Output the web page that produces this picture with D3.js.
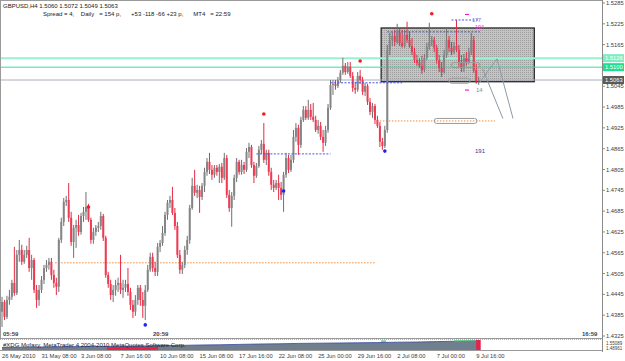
<!DOCTYPE html>
<html>
<head>
<meta charset="utf-8">
<script src="https://cdn.jsdelivr.net/npm/d3@7/dist/d3.min.js"></script>
<style>
body { margin: 0; background: #fff; }
svg { display: block; font-family: "Liberation Sans", Arial, sans-serif; }
</style>
</head>
<body>
<svg width="625" height="361"></svg>
<script>
// GBPUSD H4, 26 May 2010 .. 9 Jul 2010
var opens = [
1.4395,1.4423,1.4380,1.4429,1.4438,1.4478,1.4449,1.4559,1.4573,1.4539,
1.4559,1.4573,1.4521,1.4544,1.4458,1.4429,1.4458,1.4487,1.4521,1.4530,
1.4539,1.4501,1.4478,1.4467,1.4602,1.4654,1.4712,1.4717,1.4666,1.4596,
1.4637,1.4645,1.4625,1.4671,1.4683,1.4697,1.4660,1.4602,1.4625,1.4637,
1.4642,1.4671,1.4608,1.4501,1.4475,1.4443,1.4458,1.4472,1.4478,1.4458,
1.4464,1.4475,1.4452,1.4415,1.4395,1.4429,1.4464,1.4429,1.4412,1.4458,
1.4516,1.4553,1.4521,1.4510,1.4582,1.4593,1.4622,1.4674,1.4709,1.4717,
1.4680,1.4642,1.4559,1.4516,1.4530,1.4573,1.4602,1.4694,1.4758,1.4738,
1.4746,1.4726,1.4758,1.4798,1.4827,1.4804,1.4790,1.4810,1.4798,1.4813,
1.4781,1.4838,1.4732,1.4694,1.4729,1.4781,1.4827,1.4798,1.4818,1.4804,
1.4856,1.4870,1.4818,1.4787,1.4815,1.4862,1.4879,1.4833,1.4853,1.4798,
1.4761,1.4752,1.4766,1.4752,1.4732,1.4790,1.4838,1.4804,1.4833,1.4899,
1.4925,1.4876,1.4948,1.4977,1.4954,1.4977,1.4957,1.4948,1.4919,1.4931,
1.4899,1.4882,1.4919,1.4983,1.5049,1.5052,1.5046,1.5063,1.5084,1.5104,
1.5086,1.5101,1.5075,1.5040,1.5035,1.5075,1.5063,1.5029,1.5046,1.5000,
1.4971,1.4988,1.4948,1.4931,1.4885,1.4873,1.4919,1.5150,1.5179,1.5190,
1.5173,1.5199,1.5170,1.5161,1.5193,1.5179,1.5161,1.5144,1.5121,1.5112,
1.5104,1.5092,1.5127,1.5159,1.5173,1.5179,1.5156,1.5121,1.5098,1.5086,
1.5135,1.5179,1.5156,1.5144,1.5161,1.5150,1.5115,1.5098,1.5127,1.5115,
1.5144,1.5179,1.5092,1.5060]
var highs = [
1.4438,1.4429,1.4441,1.4458,1.4487,1.4582,1.4573,1.4602,1.4588,1.4573,
1.4585,1.4608,1.4559,1.4550,1.4472,1.4472,1.4498,1.4530,1.4544,1.4550,
1.4550,1.4516,1.4493,1.4608,1.4666,1.4723,1.4729,1.4766,1.4683,1.4645,
1.4660,1.4674,1.4680,1.4697,1.4740,1.4706,1.4666,1.4637,1.4645,1.4654,
1.4683,1.4677,1.4614,1.4510,1.4487,1.4472,1.4487,1.4493,1.4559,1.4487,
1.4487,1.4521,1.4464,1.4429,1.4443,1.4472,1.4472,1.4452,1.4472,1.4530,
1.4565,1.4565,1.4539,1.4593,1.4602,1.4642,1.4683,1.4717,1.4729,1.4755,
1.4694,1.4654,1.4573,1.4539,1.4585,1.4614,1.4703,1.4781,1.4804,1.4761,
1.4758,1.4766,1.4810,1.4838,1.4853,1.4818,1.4818,1.4818,1.4821,1.4824,
1.4853,1.4847,1.4746,1.4740,1.4790,1.4838,1.4833,1.4833,1.4827,1.4867,
1.4882,1.4876,1.4827,1.4824,1.4873,1.4890,1.4939,1.4862,1.4862,1.4810,
1.4775,1.4775,1.4790,1.4769,1.4798,1.4853,1.4847,1.4847,1.4919,1.4939,
1.4934,1.4957,1.4988,1.4988,1.5006,1.4994,1.4997,1.4960,1.4948,1.4942,
1.4919,1.4931,1.4994,1.5063,1.5063,1.5063,1.5072,1.5092,1.5127,1.5112,
1.5115,1.5115,1.5086,1.5058,1.5086,1.5092,1.5072,1.5055,1.5052,1.5011,
1.4997,1.4994,1.4960,1.4942,1.4896,1.4931,1.5164,1.5199,1.5202,1.5208,
1.5225,1.5213,1.5208,1.5208,1.5231,1.5202,1.5184,1.5156,1.5135,1.5127,
1.5133,1.5138,1.5170,1.5228,1.5190,1.5187,1.5164,1.5135,1.5115,1.5150,
1.5213,1.5190,1.5173,1.5173,1.5236,1.5164,1.5135,1.5138,1.5144,1.5156,
1.5199,1.5190,1.5110,1.5072]
var lows = [
1.4351,1.4371,1.4374,1.4415,1.4429,1.4441,1.4443,1.4539,1.4530,1.4533,
1.4550,1.4510,1.4487,1.4449,1.4406,1.4412,1.4449,1.4475,1.4510,1.4516,
1.4487,1.4464,1.4443,1.4452,1.4593,1.4642,1.4700,1.4654,1.4585,1.4550,
1.4579,1.4614,1.4617,1.4654,1.4660,1.4654,1.4591,1.4591,1.4614,1.4625,
1.4631,1.4599,1.4493,1.4464,1.4429,1.4423,1.4441,1.4452,1.4446,1.4435,
1.4452,1.4441,1.4400,1.4377,1.4383,1.4415,1.4412,1.4377,1.4371,1.4452,
1.4510,1.4510,1.4498,1.4498,1.4567,1.4585,1.4614,1.4660,1.4694,1.4674,
1.4631,1.4550,1.4504,1.4504,1.4521,1.4559,1.4591,1.4689,1.4729,1.4723,
1.4680,1.4717,1.4740,1.4787,1.4792,1.4775,1.4781,1.4787,1.4766,1.4766,
1.4775,1.4723,1.4683,1.4640,1.4717,1.4769,1.4790,1.4790,1.4792,1.4798,
1.4838,1.4810,1.4766,1.4781,1.4810,1.4850,1.4824,1.4818,1.4787,1.4746,
1.4740,1.4746,1.4717,1.4717,1.4683,1.4781,1.4795,1.4798,1.4824,1.4885,
1.4847,1.4867,1.4942,1.4948,1.4948,1.4948,1.4942,1.4913,1.4908,1.4890,
1.4856,1.4873,1.4911,1.4977,1.5020,1.5035,1.5040,1.5055,1.5078,1.5078,
1.5081,1.5069,1.5029,1.5023,1.5029,1.5052,1.5020,1.5017,1.4991,1.4962,
1.4954,1.4936,1.4925,1.4870,1.4862,1.4867,1.4911,1.5135,1.5161,1.5161,
1.5167,1.5161,1.5156,1.5156,1.5170,1.5156,1.5135,1.5112,1.5104,1.5098,
1.5081,1.5086,1.5121,1.5150,1.5161,1.5144,1.5110,1.5086,1.5072,1.5081,
1.5127,1.5144,1.5135,1.5138,1.5144,1.5101,1.5086,1.5086,1.5104,1.5110,
1.5135,1.5084,1.5052,1.5049]
var closes = [
1.4423,1.4380,1.4429,1.4438,1.4478,1.4449,1.4559,1.4573,1.4539,1.4559,
1.4573,1.4521,1.4544,1.4458,1.4429,1.4458,1.4487,1.4521,1.4530,1.4539,
1.4501,1.4478,1.4467,1.4602,1.4654,1.4712,1.4717,1.4666,1.4596,1.4637,
1.4645,1.4625,1.4671,1.4683,1.4697,1.4660,1.4602,1.4625,1.4637,1.4642,
1.4671,1.4608,1.4501,1.4475,1.4443,1.4458,1.4472,1.4478,1.4458,1.4464,
1.4475,1.4452,1.4415,1.4395,1.4429,1.4464,1.4429,1.4412,1.4458,1.4516,
1.4553,1.4521,1.4510,1.4582,1.4593,1.4622,1.4674,1.4709,1.4717,1.4680,
1.4642,1.4559,1.4516,1.4530,1.4573,1.4602,1.4694,1.4758,1.4738,1.4746,
1.4726,1.4758,1.4798,1.4827,1.4804,1.4790,1.4810,1.4798,1.4813,1.4781,
1.4838,1.4732,1.4694,1.4729,1.4781,1.4827,1.4798,1.4818,1.4804,1.4856,
1.4870,1.4818,1.4787,1.4815,1.4862,1.4879,1.4833,1.4853,1.4798,1.4761,
1.4752,1.4766,1.4752,1.4732,1.4790,1.4838,1.4804,1.4833,1.4899,1.4925,
1.4876,1.4948,1.4977,1.4954,1.4977,1.4957,1.4948,1.4919,1.4931,1.4899,
1.4882,1.4919,1.4983,1.5049,1.5052,1.5046,1.5063,1.5084,1.5104,1.5086,
1.5101,1.5075,1.5040,1.5035,1.5075,1.5063,1.5029,1.5046,1.5000,1.4971,
1.4988,1.4948,1.4931,1.4885,1.4873,1.4919,1.5150,1.5179,1.5190,1.5173,
1.5199,1.5170,1.5161,1.5193,1.5179,1.5161,1.5144,1.5121,1.5112,1.5104,
1.5092,1.5127,1.5159,1.5173,1.5179,1.5156,1.5121,1.5098,1.5086,1.5135,
1.5179,1.5156,1.5144,1.5161,1.5150,1.5115,1.5098,1.5127,1.5115,1.5144,
1.5179,1.5092,1.5060,1.5063]

var timeLabels = ["26 May 2010","31 May 08:00","3 Jun 08:00","7 Jun 16:00","10 Jun 08:00","15 Jun 08:00",
	"17 Jun 16:00","22 Jun 08:00","25 Jun 00:00","29 Jun 16:00","2 Jul 08:00","7 Jul 00:00","9 Jul 16:00"]
var timeLabelBars = [0,16,32,48,64,80,96,112,128,144,160,176,192]
var priceTicks = [1.5285,1.5225,1.5165,1.5045,1.4985,1.4925,1.4865,1.4805,1.4745,
	1.4685,1.4625,1.4565,1.4505,1.4445,1.4385,1.4325]

// fractal dots [bar, price]
var upFractals   = [[35,1.4697],[106,1.4965],[145,1.5118],[174,1.5254]]
var downFractals = [[58,1.4357],[114,1.4743],[155,1.4858]]

// levels and objects
var hLines = [{price:1.5126, color:"#98f2d2", w:2, label:"1.5126", bg:"#7eeec0"},
	{price:1.5100, color:"#2ee39a", w:1, label:"1.5100", bg:"#22dd90"},
	{price:1.5063, color:"#a8b0b8", w:1, label:"1.5063", bg:"#5a5a5a"}]
var boxBars = [153.5, 215.5], boxPrices = [1.5213, 1.5058]
var blueSegs = [[103,133,1.4850],[133,162,1.5055],[156,193.5,1.5202],[182,193.5,1.5236]]
var orangeSegs = [[21.5,151.4,1.4536],[153,199.6,1.4945]]
var ellipses = [[175,192.3,1.4945],[182,193.5,1.5106],[181,189.5,1.5061]]
var proj1 = [[193.5,1.5057],[200.4,1.5124],[206.9,1.4952]]
var proj2 = [[194.6,1.5095],[202.8,1.4952]]

// indicator window (area top, sampled every 8 bars) and its red / green stretches
var indBars = [0,8,16,24,32,40,48,56,64,72,80,88,96,104,112,120,128,136,144,152,160,168,176,184,193]
var indVals = [0.25,0.28,0.30,0.32,0.34,0.36,0.38,0.40,0.44,0.46,0.50,0.52,0.56,0.60,0.62,0.66,0.68,0.70,0.72,0.74,0.78,0.80,0.84,0.88,0.92]
var indRed = [42.5, 63.2]
var indGreen = [[153.5,155.5],[183,192]]

var svg = d3.select("svg")
var x = d3.scaleLinear().domain([0, 193]).range([2, 478.7])
var y = d3.scaleLinear().domain([1.4325, 1.5285]).range([336, 3])
var right = 602, bottom = 338

// dotted fill for the rectangle
var pat = svg.append("defs").append("pattern")
	.attr("id", "dots").attr("width", 2).attr("height", 2).attr("patternUnits", "userSpaceOnUse")
pat.append("rect").attr("width", 2).attr("height", 2).attr("fill", "#c4c4c4")
pat.append("rect").attr("width", 1).attr("height", 1).attr("fill", "#9e9e9e")

// frame
svg.append("rect").attr("x", 0.5).attr("y", 0.5).attr("width", right).attr("height", bottom)
	.attr("fill", "none").attr("stroke", "#9a9a9a")

svg.append("rect")
	.attr("x", x(boxBars[0])).attr("y", y(boxPrices[0]))
	.attr("width", x(boxBars[1]) - x(boxBars[0])).attr("height", y(boxPrices[1]) - y(boxPrices[0]))
	.attr("fill", "url(#dots)").attr("stroke", "#1a1a1a").attr("stroke-width", 1.2)

svg.selectAll(".hline").data(hLines).enter().append("line")
	.attr("class", "hline")
	.attr("x1", 1).attr("x2", right)
	.attr("y1", function(d){ return y(d.price) }).attr("y2", function(d){ return y(d.price) })
	.attr("stroke", function(d){ return d.color }).attr("stroke-width", function(d){ return d.w })

svg.selectAll(".orange").data(orangeSegs).enter().append("line")
	.attr("class", "orange")
	.attr("x1", function(d){ return x(d[0]) }).attr("x2", function(d){ return x(d[1]) })
	.attr("y1", function(d){ return y(d[2]) }).attr("y2", function(d){ return y(d[2]) })
	.attr("stroke", "#f08a3c").attr("stroke-dasharray", "1.5,1.5")

// candles
var bars = d3.range(opens.length)
var up = function(i){ return closes[i] >= opens[i] }
var candle = svg.selectAll(".bar").data(bars).enter().append("g").attr("class", "bar")
candle.append("line")
	.attr("x1", function(i){ return x(i) }).attr("x2", function(i){ return x(i) })
	.attr("y1", function(i){ return y(highs[i]) }).attr("y2", function(i){ return y(lows[i]) })
	.attr("stroke", function(i){ return up(i) ? "#707070" : "#e62a44" }).attr("stroke-width", 1)
candle.append("rect")
	.attr("x", function(i){ return x(i) - 1 }).attr("width", 2)
	.attr("y", function(i){ return y(Math.max(opens[i], closes[i])) })
	.attr("height", function(i){ return Math.max(0.8, Math.abs(y(opens[i]) - y(closes[i]))) })
	.attr("fill", function(i){ return up(i) ? "#858585" : "#ee3a52" })

svg.selectAll(".blue").data(blueSegs).enter().append("line")
	.attr("class", "blue")
	.attr("x1", function(d){ return x(d[0]) }).attr("x2", function(d){ return x(d[1]) })
	.attr("y1", function(d){ return y(d[2]) }).attr("y2", function(d){ return y(d[2]) })
	.attr("stroke", "#4455ee").attr("stroke-dasharray", "2,1.5")

svg.selectAll(".ell").data(ellipses).enter().append("rect")
	.attr("class", "ell")
	.attr("x", function(d){ return x(d[0]) }).attr("width", function(d){ return x(d[1]) - x(d[0]) })
	.attr("y", function(d){ return y(d[2]) - 2.5 }).attr("height", 5).attr("rx", 2.5)
	.attr("fill", "none").attr("stroke", "#9a9a9a")

var line = d3.line().x(function(d){ return x(d[0]) }).y(function(d){ return y(d[1]) })
svg.selectAll(".proj").data([proj1, proj2]).enter().append("path")
	.attr("class", "proj").attr("d", line)
	.attr("fill", "none").attr("stroke", "#8a9aaa")

svg.selectAll(".upf").data(upFractals).enter().append("circle")
	.attr("cx", function(d){ return x(d[0]) }).attr("cy", function(d){ return y(d[1]) })
	.attr("r", 1.8).attr("fill", "#ee1c24")
svg.selectAll(".dnf").data(downFractals).enter().append("circle")
	.attr("cx", function(d){ return x(d[0]) }).attr("cy", function(d){ return y(d[1]) })
	.attr("r", 1.8).attr("fill", "#1c24ee")

// small marks near the last bar
svg.append("text").attr("x", 472).attr("y", 22).attr("font-size", 5.5).attr("fill", "#7777dd").text("177")
svg.append("text").attr("x", 475).attr("y", 28.5).attr("font-size", 5.5).attr("fill", "#ee22cc").text("104")
svg.append("text").attr("x", 476).attr("y", 92).attr("font-size", 6).attr("fill", "#8a8a8a").text("14")
svg.append("text").attr("x", 475).attr("y", 153).attr("font-size", 6).attr("fill", "#333399").text("191")
svg.selectAll(".mag").data([1.5252, 1.5121, 1.5034]).enter().append("line")
	.attr("x1", 465).attr("x2", 469)
	.attr("y1", function(d){ return y(d) }).attr("y2", function(d){ return y(d) })
	.attr("stroke", "#ee22cc").attr("stroke-width", 1.2)

// price axis
svg.append("line").attr("x1", right + 0.5).attr("x2", right + 0.5).attr("y1", 0).attr("y2", 352).attr("stroke", "#8a8a8a")
var ticks = svg.selectAll(".tick").data(priceTicks).enter().append("g").attr("class", "tick")
ticks.append("line").attr("x1", right).attr("x2", right + 3)
	.attr("y1", function(d){ return y(d) }).attr("y2", function(d){ return y(d) }).attr("stroke", "#8a8a8a")
ticks.append("text").attr("x", right + 4).attr("y", function(d){ return y(d) + 2 })
	.attr("font-size", 5.8).attr("fill", "#404040").text(function(d){ return d.toFixed(4) })

var tags = svg.selectAll(".tag").data(hLines).enter().append("g").attr("class", "tag")
tags.append("rect").attr("x", right + 1).attr("width", 21)
	.attr("y", function(d){ return y(d.price) - 4 }).attr("height", 8)
	.attr("fill", function(d){ return d.bg })
tags.append("text").attr("x", right + 3).attr("y", function(d){ return y(d.price) + 2.2 })
	.attr("font-size", 5.8).attr("fill", "#fff").text(function(d){ return d.label })

// indicator window
svg.append("line").attr("x1", 0).attr("x2", right).attr("y1", 339.5).attr("y2", 339.5)
	.attr("stroke", "#b0b0b0").attr("stroke-dasharray", "1,1")
var iy = d3.scaleLinear().domain([0, 1]).range([350, 340])
svg.append("path").datum(indBars)
	.attr("d", d3.area().x(function(b){ return x(b) }).y0(350).y1(function(b, k){ return iy(indVals[k]) }))
	.attr("fill", "#6f7f8e")
svg.append("path").datum(indBars)
	.attr("d", d3.line().x(function(b){ return x(b) }).y(function(b, k){ return iy(indVals[k]) }))
	.attr("fill", "none").attr("stroke", "#3a4aa0").attr("stroke-width", 0.8)
svg.append("rect").attr("x", x(indRed[0])).attr("width", x(indRed[1]) - x(indRed[0]))
	.attr("y", 347).attr("height", 3).attr("fill", "#e8204a")
svg.selectAll(".igreen").data(indGreen).enter().append("rect")
	.attr("x", function(d){ return x(d[0]) }).attr("width", function(d){ return x(d[1]) - x(d[0]) })
	.attr("y", 340.5).attr("height", 1.2).attr("fill", "#22cc44")
svg.append("rect").attr("x", x(192)).attr("width", x(193) - x(192) + 2).attr("y", 340).attr("height", 10).attr("fill", "#e8204a")
svg.append("text").attr("x", 3).attr("y", 347).attr("font-size", 6).attr("fill", "#223").text("#XDG Mofaxy, MetaTrader 4 2004-2010 MetaQuotes Software Corp.")
svg.append("line").attr("x1", 0).attr("x2", right).attr("y1", 350.5).attr("y2", 350.5).attr("stroke", "#9a9a9a")
svg.append("text").attr("x", right + 4).attr("y", 344.5).attr("font-size", 4.5).attr("fill", "#404040").text("1.55089")
svg.append("text").attr("x", right + 4).attr("y", 350).attr("font-size", 4.5).attr("fill", "#404040").text("1.48961")

// time axis
svg.selectAll(".tlab").data(timeLabels).enter().append("text")
	.attr("x", function(d, k){ return x(timeLabelBars[k]) })
	.attr("y", 358).attr("font-size", 5.8).attr("fill", "#404040").text(function(d){ return d })

// session clocks
svg.append("text").attr("x", 3).attr("y", 336).attr("font-size", 6).attr("font-weight", "bold").attr("fill", "#404050").text("05:59")
svg.append("text").attr("x", 153).attr("y", 336).attr("font-size", 6).attr("font-weight", "bold").attr("fill", "#404050").text("20:59")
svg.append("text").attr("x", 582).attr("y", 336).attr("font-size", 6).attr("font-weight", "bold").attr("fill", "#404050").text("16:59")

// header
svg.append("text").attr("x", 3).attr("y", 8).attr("font-size", 6).attr("fill", "#202020")
	.text("GBPUSD,H4  1.5060 1.5072 1.5049 1.5063")
svg.append("text").attr("x", 43).attr("y", 16).attr("font-size", 6).attr("fill", "#202020").attr("xml:space", "preserve")
	.text("Spread = 4,    Daily   = 154 p,      +53 -118 -66 +23 p,      MT4   = 22:59")
</script>
</body>
</html>
